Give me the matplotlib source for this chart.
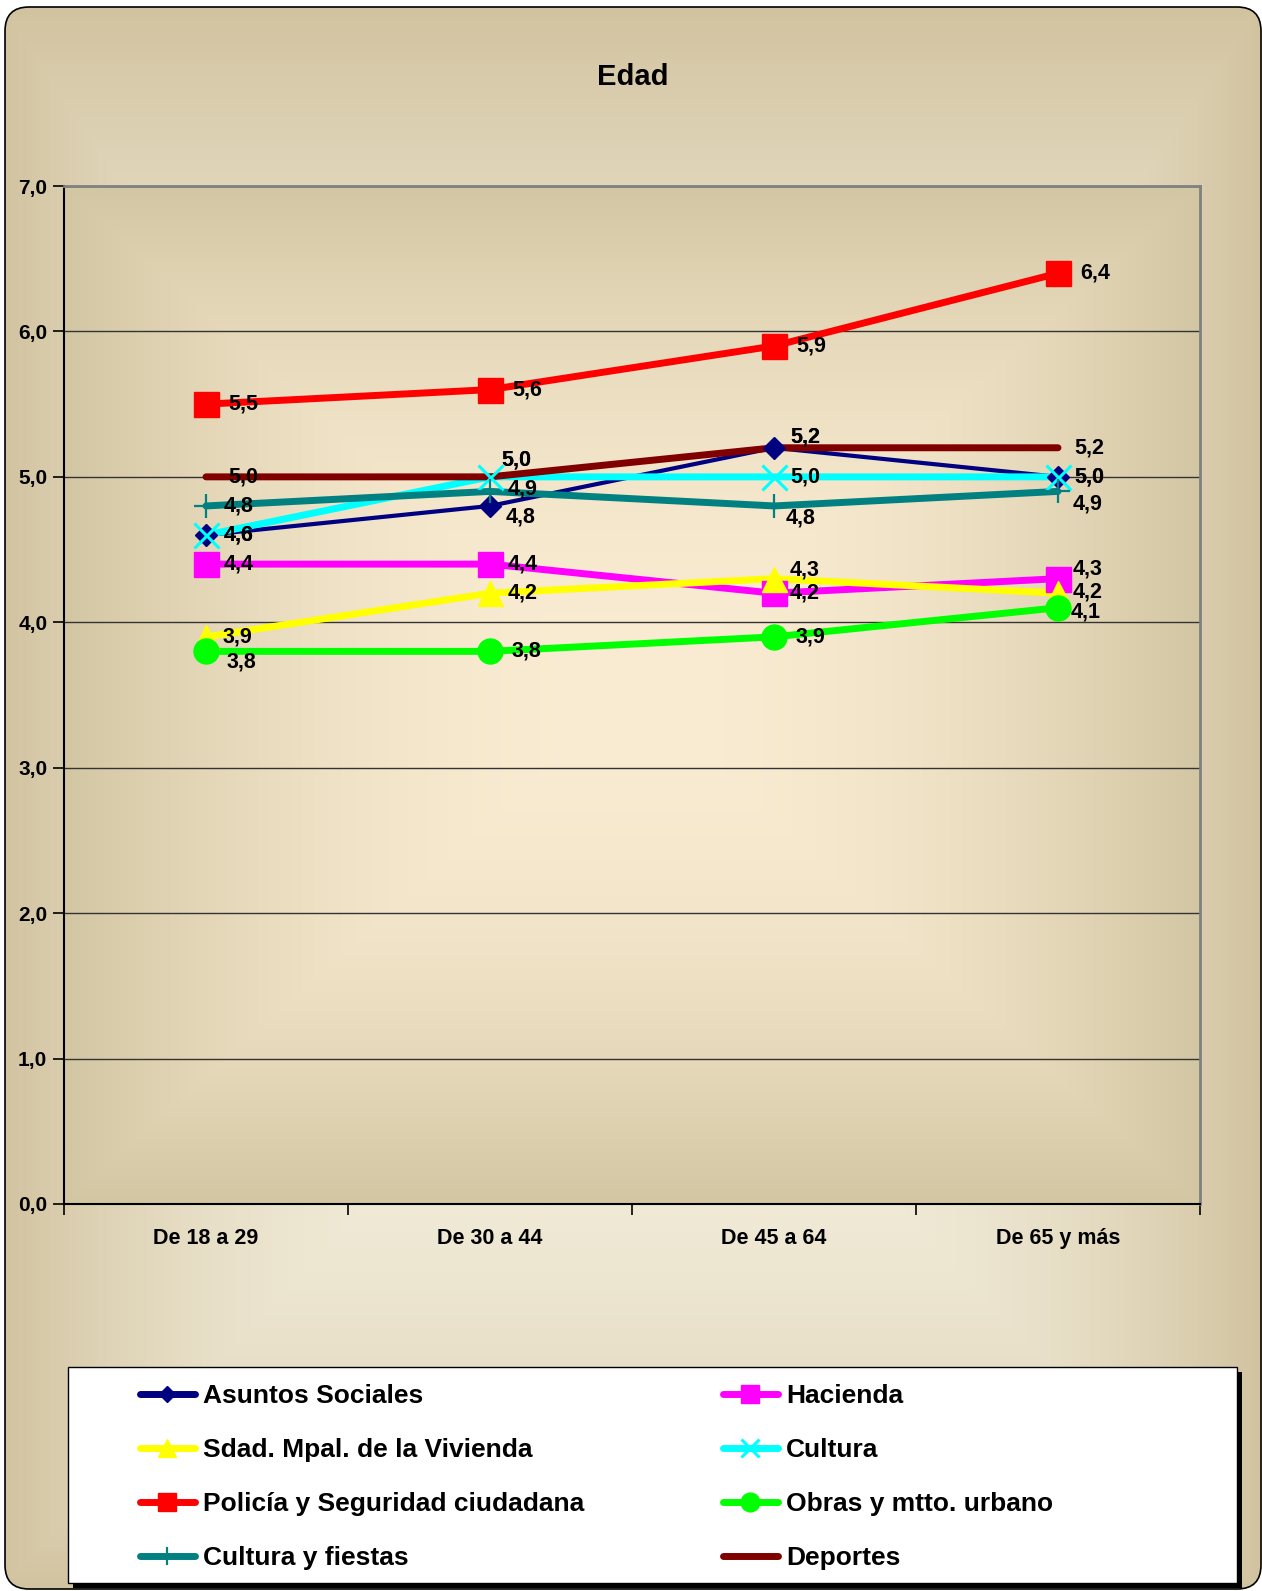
import numpy as np
import matplotlib
matplotlib.use('agg')
import matplotlib.pyplot as plt
from matplotlib.patches import FancyBboxPatch, Rectangle
from matplotlib.lines import Line2D

plt.rcParams['font.family'] = ['Liberation Sans', 'DejaVu Sans']
plt.rcParams['font.weight'] = 'bold'

######## data ########
categories = ['De 18 a 29', 'De 30 a 44', 'De 45 a 64', 'De 65 y más']
asuntos  = [4.6, 4.8, 5.2, 5.0]
hacienda = [4.4, 4.4, 4.2, 4.3]
vivienda = [3.9, 4.2, 4.3, 4.2]
cultura  = [4.6, 5.0, 5.0, 5.0]
policia  = [5.5, 5.6, 5.9, 6.4]
obras    = [3.8, 3.8, 3.9, 4.1]
fiestas  = [4.8, 4.9, 4.8, 4.9]
deportes = [5.0, 5.0, 5.2, 5.2]
yticks   = [0, 1, 2, 3, 4, 5, 6, 7]

names = ['Asuntos Sociales', 'Hacienda', 'Sdad. Mpal. de la Vivienda', 'Cultura',
         'Policía y Seguridad ciudadana', 'Obras y mtto. urbano',
         'Cultura y fiestas', 'Deportes']
values = [asuntos, hacienda, vivienda, cultura, policia, obras, fiestas, deportes]

######## styles ########
style = {
    'Asuntos Sociales':              dict(color='#000080', lw=3.0, marker='D', ms=11, mew=1),
    'Hacienda':                      dict(color='#FF00FF', lw=5.0, marker='s', ms=18, mew=1),
    'Sdad. Mpal. de la Vivienda':    dict(color='#FFFF00', lw=5.0, marker='^', ms=18, mew=1),
    'Cultura':                       dict(color='#00FFFF', lw=5.0, marker='x', ms=18, mew=2.2),
    'Policía y Seguridad ciudadana': dict(color='#FF0000', lw=5.0, marker='s', ms=18, mew=1),
    'Obras y mtto. urbano':          dict(color='#00FF00', lw=5.0, marker='o', ms=18, mew=1),
    'Cultura y fiestas':             dict(color='#008080', lw=5.0, marker='+', ms=17, mew=1.6),
    'Deportes':                      dict(color='#800000', lw=5.0, marker='None', ms=0, mew=0),
}

# label offsets in pixels (dx, dy), default is to the right of the point
default_off = (20, 0)
label_off = {
    ('Asuntos Sociales', 0): (18, 0), ('Cultura', 0): (18, 0),
    ('Cultura y fiestas', 0): (18, 0), ('Hacienda', 0): (18, 0),
    ('Sdad. Mpal. de la Vivienda', 0): (17, 0), ('Obras y mtto. urbano', 0): (21, -11),
    ('Policía y Seguridad ciudadana', 0): (22, 0), ('Deportes', 0): (22, 0),
    ('Asuntos Sociales', 1): (16, -11), ('Cultura', 1): (11, 17), ('Deportes', 1): (11, 17),
    ('Cultura y fiestas', 1): (18, 2), ('Hacienda', 1): (18, 0),
    ('Sdad. Mpal. de la Vivienda', 1): (18, 0), ('Policía y Seguridad ciudadana', 1): (22, 0),
    ('Obras y mtto. urbano', 1): (22, 0),
    ('Asuntos Sociales', 2): (16, 11), ('Deportes', 2): (16, 11),
    ('Cultura y fiestas', 2): (12, -12), ('Sdad. Mpal. de la Vivienda', 2): (16, 9),
    ('Hacienda', 2): (16, 0), ('Cultura', 2): (16, 0),
    ('Policía y Seguridad ciudadana', 2): (22, 0), ('Obras y mtto. urbano', 2): (22, 0),
    ('Asuntos Sociales', 3): (16, 0), ('Cultura', 3): (16, 0), ('Deportes', 3): (16, 0),
    ('Cultura y fiestas', 3): (15, -13), ('Hacienda', 3): (15, 10),
    ('Sdad. Mpal. de la Vivienda', 3): (15, 1), ('Obras y mtto. urbano', 3): (13, -4),
    ('Policía y Seguridad ciudadana', 3): (22, 0),
}

W, H = 1262, 1591

def hex2rgb(h):
    h = h.lstrip('#')
    return np.array([int(h[i:i + 2], 16) / 255.0 for i in (0, 2, 4)])

fig = plt.figure(figsize=(W / 100.0, H / 100.0), dpi=100)
fig.patch.set_facecolor('white')

######## chart area background (rounded, gradient) ########
bg = fig.add_axes([0, 0, 1, 1], zorder=-10)
bg.set_xlim(0, W)
bg.set_ylim(H, 0)
bg.axis('off')

xs = np.linspace(5, 1261, 320)
ys = np.linspace(7, 1589, 400)
cx, cy = 631.0, 930.0
u = np.abs(xs - cx) / 630.0
v = np.where(ys < cy, (cy - ys) / (cy - 7), (ys - cy) / (1589 - cy))
t = np.maximum(u[None, :], v[:, None]) ** 2.6
light, dark = hex2rgb('#F3EEDC'), hex2rgb('#D2C3A0')
img = light[None, None, :] * (1 - t[..., None]) + dark[None, None, :] * t[..., None]
im = bg.imshow(img, extent=[5, 1261, 1589, 7], aspect='auto', interpolation='bilinear')
frame = FancyBboxPatch((5, 7), 1256, 1582, boxstyle='round,pad=0,rounding_size=24',
                       fc='none', ec='black', lw=1.2)
bg.add_patch(frame)
im.set_clip_path(frame)

fig.text(633 / W, 1 - 77 / H, 'Edad', ha='center', va='center', fontsize=21, fontweight='bold')

######## plot area ########
ax = fig.add_axes([64 / W, 1 - 1204 / H, 1136 / W, 1018 / H])
gx = np.linspace(-1, 1, 300)
gy = np.linspace(-1, 1, 300)
tp = np.maximum(np.abs(gx)[None, :], np.abs(gy)[:, None]) ** 2.0
pl, pd = hex2rgb('#FAECD2'), hex2rgb('#D3C6A3')
pimg = pl[None, None, :] * (1 - tp[..., None]) + pd[None, None, :] * tp[..., None]
ax.imshow(pimg, extent=[-0.5, 3.5, 0, 7], aspect='auto', interpolation='bilinear', zorder=0)

x = np.arange(len(categories))
for name, vals in zip(names, values):
    st = style[name]
    ax.plot(x, vals, color=st['color'], lw=st['lw'], solid_capstyle='round',
            solid_joinstyle='round', zorder=3)
for name, vals in zip(names, values):
    st = style[name]
    if st['marker'] != 'None':
        ax.plot(x, vals, ls='None', marker=st['marker'], ms=st['ms'], mew=st['mew'],
                color=st['color'], mfc=st['color'], mec=st['color'], zorder=4)
for name, vals in zip(names, values):
    for i, val in enumerate(vals):
        dx, dy = label_off.get((name, i), default_off)
        ax.annotate(('%.1f' % val).replace('.', ','), (i, val), xytext=(dx, dy),
                    textcoords='offset pixels', ha='left', va='center',
                    fontsize=15.5, fontweight='bold', color='black', zorder=5)

ax.set_xlim(-0.5, 3.5)
ax.set_ylim(0, 7)
ax.set_yticks(yticks)
ax.set_yticklabels([('%.1f' % yv).replace('.', ',') for yv in yticks], fontsize=15, fontweight='bold')
ax.set_xticks(x)
ax.set_xticklabels(categories, fontsize=15.5, fontweight='bold')
ax.set_xticks([-0.5, 0.5, 1.5, 2.5, 3.5], minor=True)
ax.tick_params(axis='x', which='major', length=0, pad=17)
ax.tick_params(axis='x', which='minor', length=8, width=1.2, direction='out', color='black')
ax.tick_params(axis='y', length=8, width=1.2, direction='out', pad=4)
ax.yaxis.grid(True, color='#333333', lw=1.0)
ax.set_axisbelow(True)
for side in ['top', 'right']:
    ax.spines[side].set_color('#808080')
    ax.spines[side].set_linewidth(2)
for side in ['left', 'bottom']:
    ax.spines[side].set_color('black')
    ax.spines[side].set_linewidth(1.5)

######## legend box ########
lg = fig.add_axes([0, 0, 1, 1], zorder=5)
lg.set_xlim(0, W)
lg.set_ylim(H, 0)
lg.axis('off')
lg.add_patch(Rectangle((73, 1372), 1169, 216, fc='black', ec='none'))
lg.add_patch(Rectangle((68, 1367), 1169, 216, fc='white', ec='black', lw=1))

leg_cols = [137, 720]
leg_rows = [1394, 1448, 1502, 1556]
order = ['Asuntos Sociales', 'Hacienda', 'Sdad. Mpal. de la Vivienda', 'Cultura',
         'Policía y Seguridad ciudadana', 'Obras y mtto. urbano', 'Cultura y fiestas', 'Deportes']
for k, name in enumerate(order):
    st = style[name]
    x0 = leg_cols[k % 2]
    y0 = leg_rows[k // 2]
    lg.add_line(Line2D([x0 + 3, x0 + 58], [y0, y0], color=st['color'], lw=5.0,
                       solid_capstyle='round'))
    if st['marker'] != 'None':
        lg.add_line(Line2D([x0 + 30], [y0], ls='None', marker=st['marker'],
                           ms=st['ms'] * 0.75, mew=st['mew'], color=st['color'],
                           mfc=st['color'], mec=st['color']))
    lg.text(x0 + 66, y0 + 2, name, ha='left', va='center', fontsize=19, fontweight='bold')

fig.savefig('out.png', dpi=100)
